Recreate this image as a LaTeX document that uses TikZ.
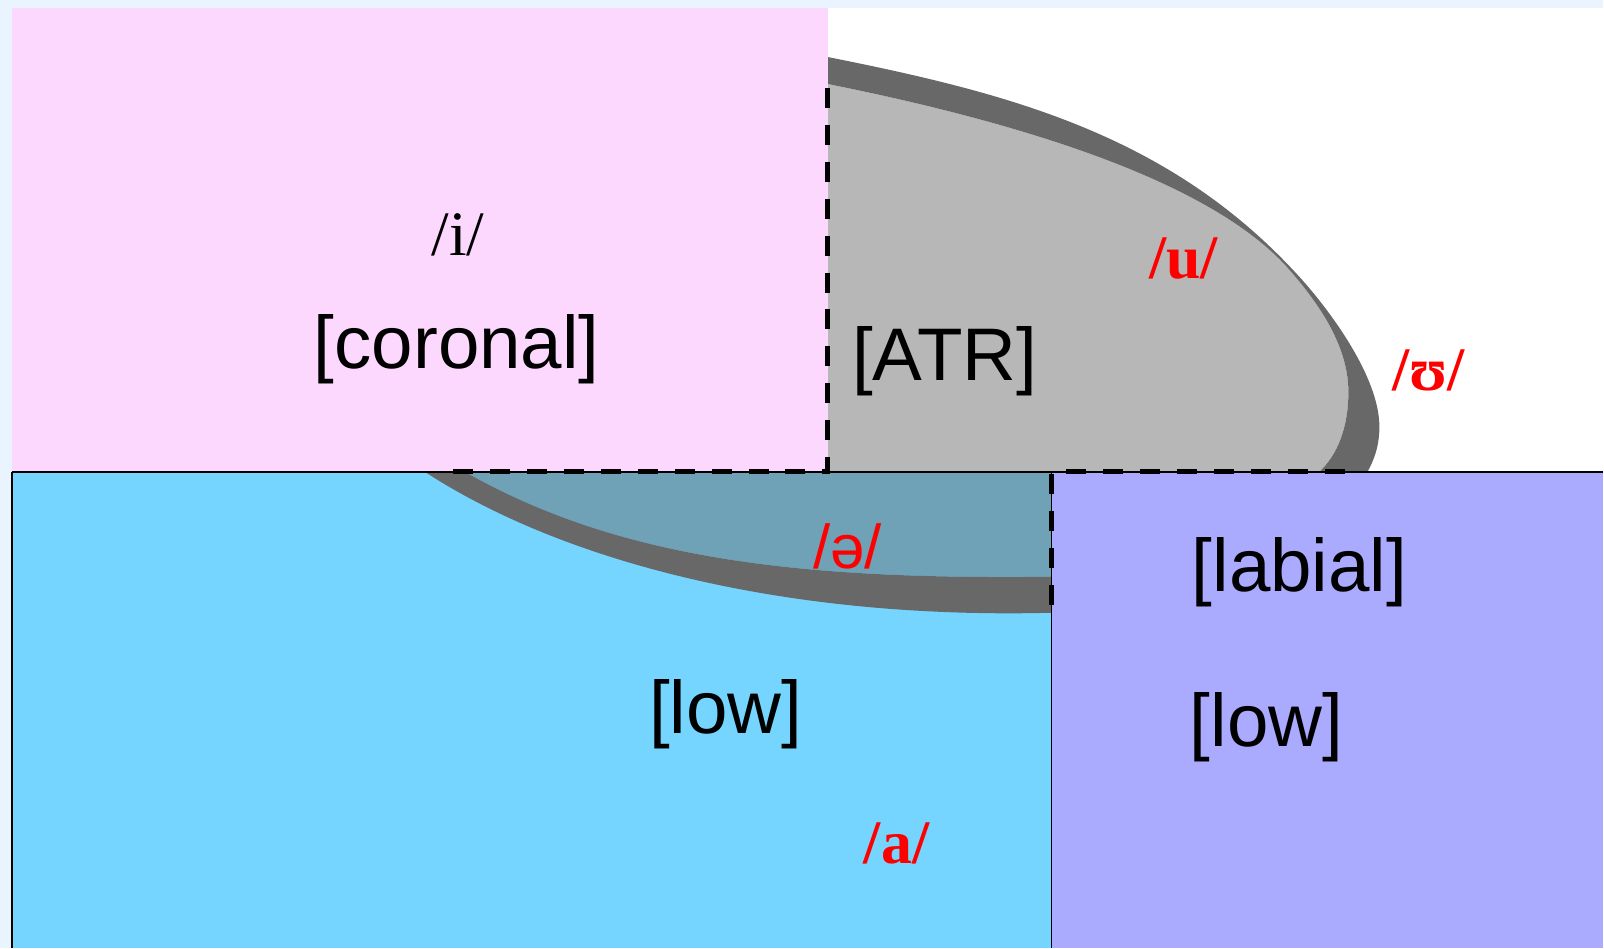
\documentclass[tikz,border=0pt]{standalone}
\usepackage{fontspec}
\setmainfont{Liberation Serif}
\setsansfont{Liberation Sans}

\definecolor{pagebg}{HTML}{E9F4FE}
\definecolor{coronalpink}{HTML}{FDD8FE}
\definecolor{lowblue}{HTML}{76D5FE}
\definecolor{labialblue}{HTML}{AAAAFE}
\definecolor{atrdark}{HTML}{686868}
\definecolor{atrgray}{HTML}{696969}

\newcommand{\atrouter}{(828,57) .. controls (1008,93) and (1170,134) .. (1300,277)
    .. controls (1330,310) and (1380,377) .. (1380,427)
    .. controls (1380,445) and (1375,460) .. (1368,472)
    .. controls (1355,530) and (1200,613) .. (1052,613)
    .. controls (780,620) and (560,560) .. (425,472)
    .. controls (330,390) and (700,35) .. (828,57) -- cycle}
\newcommand{\atrinner}{(828,84) .. controls (1008,120) and (1210,178) .. (1290,270)
    .. controls (1318,302) and (1349,345) .. (1349,392)
    .. controls (1349,428) and (1338,455) .. (1320,472)
    .. controls (1280,520) and (1150,577) .. (1052,577)
    .. controls (800,580) and (620,560) .. (465,472)
    .. controls (350,400) and (700,58) .. (828,84) -- cycle}

\begin{document}
\begin{tikzpicture}[x=0.01cm, y=-0.01cm,
    feature/.style={font=\sffamily\fontsize{21.2}{25}\selectfont},
    segment/.style={text=red, font=\bfseries\fontsize{17.6}{21}\selectfont},
    atrdash/.style={line width=1.5pt, dash pattern=on 5.7pt off 4.8pt}]
    \fill[pagebg] (0,0) rectangle (1604,948);
    \fill[white] (828,8) rectangle (1604,472);
    \fill[lowblue] (12,472) rectangle (1052,948);
    \fill[atrdark, even odd rule] \atrouter \atrinner;
    \fill[atrgray, opacity=0.475] \atrinner;
    \fill[coronalpink] (12,8) rectangle (828,472);
    \fill[labialblue] (1052,472) rectangle (1604,948);
    \draw[line width=0.4pt] (12,472) -- (1604,472);
    \draw[line width=0.4pt] (1052,472) -- (1052,948);
    \draw[line width=0.6pt] (12,472) -- (12,948);
    \draw[atrdash] (828,88) -- (828,472) -- (445,472);
    \draw[atrdash] (1052,605) -- (1052,472) -- (1355,472);
    \node[font=\fontsize{18}{21}\selectfont] (ivowel) at (458,235) {/i/};
    \node[feature] (coronal) at (457,349) {[coronal]};
    \node[feature] (atr) at (945,361) {[ATR]};
    \node[segment] (uvowel) at (1184,259) {/u/};
    \node[segment] (upsilon) at (1429,371) {/ʊ/};
    \node[segment, font=\sffamily\fontsize{17.6}{21}\selectfont] (schwa) at (848,547) {/ə/};
    \node[feature] (labial) at (1300,572) {[labial]};
    \node[feature] (lowleft) at (726,715) {[low]};
    \node[feature] (lowright) at (1267,728) {[low]};
    \node[segment] (avowel) at (897,844) {/a/};
\end{tikzpicture}
\end{document}
